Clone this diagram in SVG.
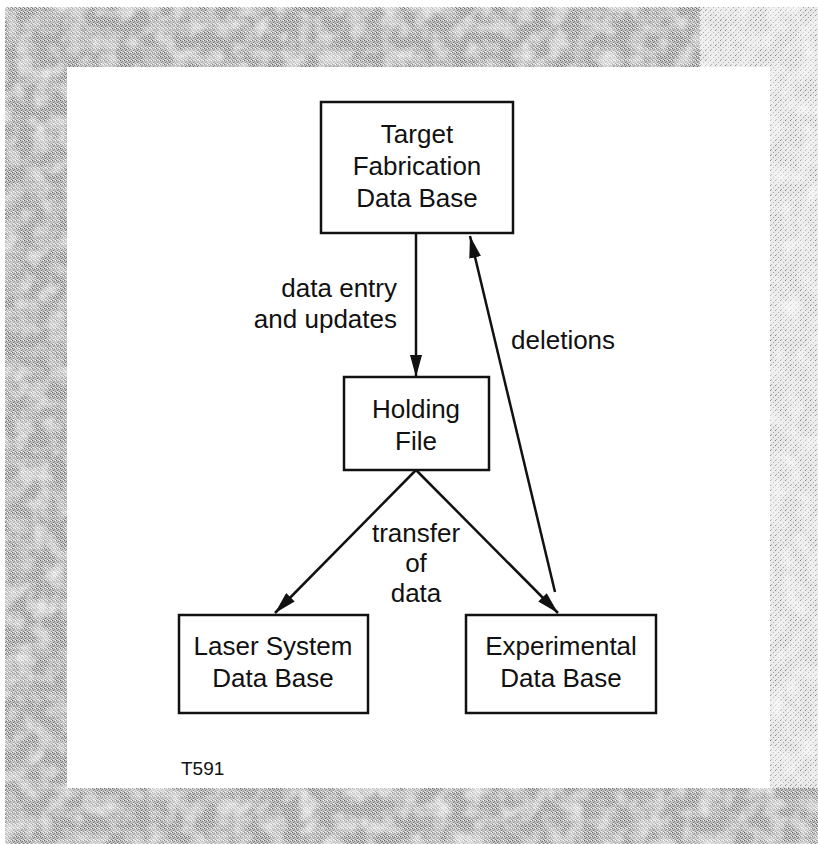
<svg xmlns="http://www.w3.org/2000/svg" width="818" height="844" viewBox="0 0 818 844">
<style>
.box{fill:#fff;stroke:#111;stroke-width:2.5}
.lbl{font-family:"Liberation Sans",Arial,sans-serif;font-size:26px;fill:#111}
.c{text-anchor:middle}
.r{text-anchor:end}
.edge{stroke:#111;stroke-width:2.5;fill:none}
</style>
<defs>
<pattern id="stip" width="4" height="4" patternUnits="userSpaceOnUse">
<rect width="4" height="4" fill="#bdbdbd"/>
<rect x="0" y="0" width="1" height="1" fill="#666"/>
<rect x="2" y="1" width="1" height="1" fill="#808080"/>
<rect x="1" y="2" width="1" height="1" fill="#707070"/>
<rect x="3" y="3" width="1" height="1" fill="#888"/>
<rect x="3" y="0" width="1" height="1" fill="#f4f4f4"/>
<rect x="1" y="3" width="1" height="1" fill="#f4f4f4"/>
</pattern>
<pattern id="stipL" width="5" height="5" patternUnits="userSpaceOnUse">
<rect width="5" height="5" fill="#e8e8e8"/>
<rect x="0" y="0" width="1" height="1" fill="#808080"/>
<rect x="3" y="2" width="1" height="1" fill="#a0a0a0"/>
<rect x="1" y="4" width="1" height="1" fill="#aaa"/>
</pattern>
<filter id="grain" x="0" y="0" width="100%" height="100%">
<feTurbulence type="fractalNoise" baseFrequency="0.06" numOctaves="3" seed="7" result="n"/>
<feColorMatrix in="n" type="matrix" values="0 0 0 0 1  0 0 0 0 1  0 0 0 0 1  0 0 0 -1.2 0.75" result="w"/>
<feComposite in="w" in2="SourceGraphic" operator="in" result="wm"/>
<feMerge><feMergeNode in="SourceGraphic"/><feMergeNode in="wm"/></feMerge>
</filter>
<marker id="ah" viewBox="0 0 22 12" refX="22" refY="6" markerWidth="22" markerHeight="12" markerUnits="userSpaceOnUse" orient="auto">
<path d="M0,0 L22,6 L0,12 Z" fill="#111"/>
</marker>
</defs>
<rect width="818" height="844" fill="#fff"/>
<g id="border" filter="url(#grain)">
<path d="M5,7 H770 V67 H67 V788 H770 V844 H5 Z" fill="url(#stip)"/>
<path d="M700,7 H818 V844 H770 V67 H700 Z" fill="url(#stipL)"/>
<path d="M770,788 H818 V844 H770 Z" fill="url(#stip)"/>
</g>
<g id="connectors">
<line class="edge" x1="416" y1="233" x2="416" y2="377" marker-end="url(#ah)"/>
<line class="edge" x1="416" y1="470" x2="275" y2="613" marker-end="url(#ah)"/>
<line class="edge" x1="416" y1="470" x2="558" y2="613" marker-end="url(#ah)"/>
<line class="edge" x1="555" y1="592" x2="470" y2="236" marker-end="url(#ah)"/>
<text class="lbl r" x="397" y="297">data entry</text>
<text class="lbl r" x="397" y="328">and updates</text>
<text class="lbl" x="511" y="349">deletions</text>
<text class="lbl c" x="416" y="542">transfer</text>
<text class="lbl c" x="416" y="572">of</text>
<text class="lbl c" x="416" y="602">data</text>
</g>
<g id="target">
<rect class="box" x="321" y="102" width="192" height="131" stroke-width="3"/>
<text class="lbl c" x="417" y="143">Target</text>
<text class="lbl c" x="417" y="175">Fabrication</text>
<text class="lbl c" x="417" y="207">Data Base</text>
</g>
<g id="holding">
<rect class="box" x="344" y="377" width="145" height="93" stroke-width="2"/>
<text class="lbl c" x="416" y="418">Holding</text>
<text class="lbl c" x="416" y="450">File</text>
</g>
<g id="laser">
<rect class="box" x="179" y="615" width="189" height="98"/>
<text class="lbl c" x="273" y="655">Laser System</text>
<text class="lbl c" x="273" y="687">Data Base</text>
</g>
<g id="experimental">
<rect class="box" x="466" y="615" width="190" height="98"/>
<text class="lbl c" x="561" y="655">Experimental</text>
<text class="lbl c" x="561" y="687">Data Base</text>
</g>
<text class="lbl" x="181" y="775" style="font-size:19px">T591</text>
</svg>
